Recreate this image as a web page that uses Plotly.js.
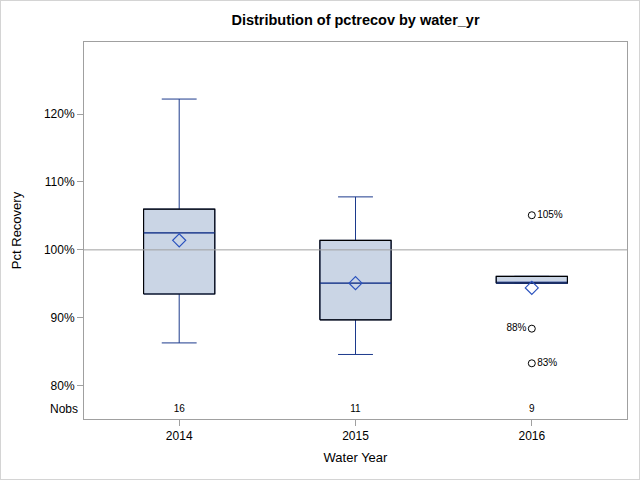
<!DOCTYPE html>
<html>
<head>
<meta charset="utf-8">
<script src="https://cdn.plot.ly/plotly-3.0.1.min.js"></script>
<style>
body{margin:0;padding:0;background:#fff;}
#wrap{position:relative;width:640px;height:480px;}
#chart{width:640px;height:480px;}
#frame{position:absolute;left:0;top:0;width:640px;height:480px;box-sizing:border-box;border:1px solid #d4d4d4;pointer-events:none;}
</style>
</head>
<body>
<div id="wrap"><div id="chart"></div><div id="frame"></div></div>
<script>
// Data
const years = ['2014', '2015', '2016'];
const q1 = [93.5, 89.7, 95.1];
const median = [102.5, 95.1, 95.1];
const q3 = [106.0, 101.4, 96.1];
const lowerWhisker = [86.3, 84.6, 95.1];
const upperWhisker = [122.2, 107.8, 96.1];
const means = [101.4, 95.1, 94.4];
const nobs = [16, 11, 9];
const outlierYear = ['2016', '2016', '2016'];
const outlierValue = [105.1, 88.4, 83.3];
const outlierLabel = ['105%', '88%', '83%'];
const outlierLabelPos = ['middle right', 'middle left', 'middle right'];
const yTickVals = [80, 90, 100, 110, 120];
const yTickText = ['80%', '90%', '100%', '110%', '120%'];

const pos = years.map((_, i) => i);
const boxW = 0.404;
const lineBlue = '#1c3a8c';
const font = 'Liberation Sans, Arial, sans-serif';

// outline rectangles and median segments built from stats
const rectX = [], rectY = [], medX = [], medY = [];
pos.forEach((p, i) => {
  const a = p - boxW / 2, b = p + boxW / 2;
  rectX.push(a, b, b, a, a, null);
  rectY.push(q1[i], q1[i], q3[i], q3[i], q1[i], null);
  medX.push(a, b, null);
  medY.push(median[i], median[i], null);
});
const outX = outlierYear.map(y => years.indexOf(y));
const nobsY = 76.5;

const data = [
  {
    type: 'box', x: pos, q1: q1, median: median, q3: q3,
    lowerfence: lowerWhisker, upperfence: upperWhisker,
    width: boxW, whiskerwidth: 0.49, boxpoints: false,
    fillcolor: '#cad5e5', line: {color: lineBlue, width: 1},
    hoverinfo: 'skip', showlegend: false
  },
  {
    type: 'scatter', mode: 'lines', x: rectX, y: rectY,
    line: {color: '#000', width: 1.1}, hoverinfo: 'skip', showlegend: false
  },
  {
    type: 'scatter', mode: 'lines', x: medX, y: medY,
    line: {color: lineBlue, width: 1}, hoverinfo: 'skip', showlegend: false
  },
  {
    type: 'scatter', mode: 'markers', x: pos, y: means,
    marker: {symbol: 'diamond-open', size: 10, color: '#2a52be', line: {width: 1.2}},
    hoverinfo: 'skip', showlegend: false
  },
  {
    type: 'scatter', mode: 'markers+text', x: outX, y: outlierValue,
    text: outlierLabel, textposition: outlierLabelPos,
    textfont: {family: font, size: 10, color: '#000'},
    marker: {symbol: 'circle-open', size: 7, color: '#000', line: {width: 1}},
    hoverinfo: 'skip', showlegend: false
  },
  {
    type: 'scatter', mode: 'text', x: pos, y: pos.map(() => nobsY),
    text: nobs.map(String), textposition: 'middle center',
    textfont: {family: font, size: 10, color: '#000'},
    hoverinfo: 'skip', showlegend: false
  }
];

const layout = {
  width: 640, height: 480,
  margin: {l: 84, r: 13, t: 42, b: 61},
  paper_bgcolor: '#fff', plot_bgcolor: '#fff',
  font: {family: font, size: 12, color: '#000'},
  title: {
    text: '<b>Distribution of pctrecov by water_yr</b>',
    font: {family: font, size: 14.5, color: '#000'},
    x: 0.5, xref: 'paper', xanchor: 'center',
    y: 1 - 20 / 480, yref: 'container', yanchor: 'middle'
  },
  xaxis: {
    range: [-0.54, 2.54],
    tickvals: pos, ticktext: years,
    ticks: 'outside', ticklen: 6, tickcolor: '#a0a0a0',
    showline: true, linecolor: '#a0a0a0', mirror: true, linewidth: 1,
    showgrid: false, zeroline: false,
    tickfont: {family: font, size: 12},
    title: {text: 'Water Year', font: {family: font, size: 13}, standoff: 10}
  },
  yaxis: {
    range: [75.1, 130.6],
    tickvals: yTickVals, ticktext: yTickText,
    ticks: 'outside', ticklen: 6, tickcolor: '#a0a0a0',
    showline: true, linecolor: '#a0a0a0', mirror: true, linewidth: 1,
    showgrid: false, zeroline: false,
    tickfont: {family: font, size: 12},
    title: {text: 'Pct Recovery', font: {family: font, size: 13}, standoff: 19}
  },
  shapes: [{
    type: 'line', xref: 'paper', x0: 0, x1: 1, yref: 'y', y0: 100, y1: 100,
    line: {color: '#a0a0a0', width: 1}, layer: 'above'
  }],
  annotations: [{
    xref: 'paper', x: 0, xanchor: 'right', xshift: -4,
    yref: 'y', y: nobsY, yanchor: 'middle',
    text: 'Nobs', showarrow: false, font: {family: font, size: 12}
  }]
};

Plotly.newPlot('chart', data, layout, {displayModeBar: false, staticPlot: true});
</script>
</body>
</html>
